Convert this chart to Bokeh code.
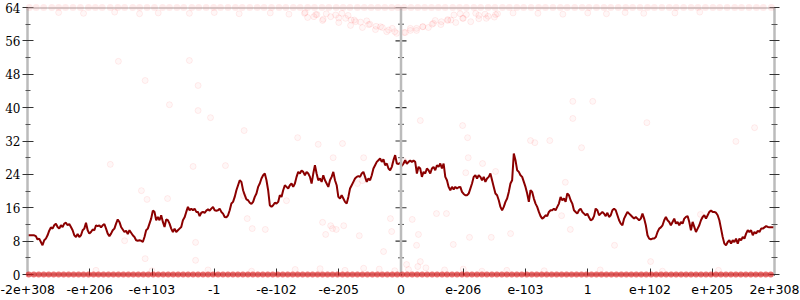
import numpy as np
from bokeh.plotting import figure
from bokeh.models import Range1d, LinearAxis, Span, FixedTicker, CustomJSTickFormatter
from bokeh.embed import file_html
from bokeh.resources import INLINE

# ---------------- data ----------------
x_ticks = [-6, -5, -4, -3, -2, -1, 0, 1, 2, 3, 4, 5, 6]
x_tick_labels = ["-2e+308", "-e+206", "-e+103", "-1", "-e-102", "-e-205", "0",
                 "e-206", "e-103", "1", "e+102", "e+205", "2e+308"]
y_ticks = [0, 8, 16, 24, 32, 40, 48, 56, 64]
y_minor_ticks = [4, 12, 20, 28, 36, 44, 52, 60]

line_left = [9.4, 9.4, 9.4, 9.4, 9.4, 9.2, 8.4, 8.6, 7.8, 7.0, 8.2, 8.6, 9.4, 10.5, 11.3, 11.0,
             11.8, 12.2, 11.4, 11.0, 11.8, 11.4, 12.2, 12.4, 11.8, 12.1, 11.4, 10.6, 9.4, 9.0,
             9.7, 9.0, 9.4, 10.6, 11.0, 12.4, 10.6, 9.8, 10.2, 10.8, 10.6, 11.8, 11.6, 11.8,
             11.3, 11.8, 12.1, 11.0, 9.8, 9.2, 9.8, 10.6, 11.0, 12.2, 13.2, 12.6, 11.4, 10.8,
             10.2, 10.5, 9.7, 10.6, 10.0, 9.4, 9.0, 8.2, 8.1, 8.2, 8.1, 7.8, 9.0, 10.6, 11.0,
             12.2, 13.4, 15.3, 15.0, 13.0, 13.8, 13.0, 14.2, 12.6, 11.4, 13.2, 13.0, 12.2, 11.0,
             10.2, 11.0, 10.2, 10.6, 11.0, 11.4, 13.0, 13.7, 15.0, 16.2, 15.4, 15.8, 15.4, 15.8,
             15.0, 15.0, 14.0, 14.8, 15.0, 14.8, 15.3, 15.6, 15.3, 15.8, 16.2, 15.4, 15.3, 15.4,
             15.8, 15.0, 14.6, 13.8, 13.7, 14.2, 15.4, 17.0, 17.4, 18.6, 20.2, 21.4, 22.6, 22.2,
             20.2, 19.0, 18.0, 17.8, 17.2, 16.9, 17.4, 18.6, 19.4, 21.0, 21.8, 23.0, 23.8, 24.2,
             22.6, 20.2, 16.6, 16.2, 16.6, 17.2, 17.0, 17.4, 19.0, 18.6, 20.2, 21.4, 21.0, 20.6,
             21.4, 21.8, 21.0, 21.8, 23.4, 24.6, 24.2, 24.9, 24.6, 23.8, 24.6, 24.2, 23.4, 21.8,
             24.2, 26.2, 24.2, 22.6, 23.0, 22.2, 23.8, 22.6, 21.8, 21.0, 22.6, 23.4, 24.6, 22.6,
             21.4, 18.6, 18.2, 19.0, 18.2, 17.4, 17.0, 18.6, 20.6, 21.4, 22.2, 23.0, 23.4, 23.6,
             23.4, 24.2, 24.6, 23.4, 22.2, 23.0, 22.6, 23.8, 25.4, 26.2, 27.0, 27.4, 27.8, 27.0,
             27.6, 26.2, 26.6, 25.4, 25.0, 25.8, 27.4, 28.6, 26.6, 26.5, 26.8]

line_right = [26.0, 26.6, 27.4, 26.5, 27.0, 27.3, 27.0, 27.3, 27.0, 24.2, 25.8, 25.4, 23.4, 24.6,
              24.2, 25.4, 25.0, 24.2, 25.4, 25.8, 25.0, 26.2, 25.8, 26.6, 25.4, 26.6, 23.4, 22.6,
              21.0, 20.2, 21.0, 20.4, 21.0, 20.6, 20.9, 21.0, 19.8, 19.3, 19.0, 19.0, 19.4, 20.6,
              21.8, 23.4, 23.8, 23.0, 23.8, 23.4, 22.6, 23.4, 22.2, 23.0, 23.4, 24.2, 22.6, 21.0,
              19.4, 19.0, 17.8, 16.2, 15.4, 16.2, 17.4, 18.2, 19.8, 21.8, 22.6, 29.0, 27.4, 25.0,
              24.6, 23.8, 23.4, 22.2, 21.0, 19.4, 17.4, 20.2, 19.8, 18.2, 17.0, 16.2, 15.0, 14.0,
              13.4, 13.7, 14.2, 14.0, 15.0, 15.4, 15.4, 15.8, 15.4, 16.2, 17.0, 18.6, 17.8, 18.2,
              17.4, 19.4, 19.0, 17.8, 17.0, 15.4, 15.0, 14.6, 15.4, 15.8, 15.0, 14.6, 14.2, 14.6,
              13.7, 13.0, 13.2, 14.0, 15.8, 15.4, 14.2, 14.6, 15.0, 14.6, 14.0, 14.8, 13.8, 14.2,
              15.4, 15.8, 15.4, 14.2, 13.0, 12.2, 11.8, 13.4, 14.2, 15.0, 14.6, 14.2, 13.8, 13.4,
              13.8, 13.4, 13.0, 13.4, 14.6, 13.4, 11.8, 9.4, 8.6, 8.4, 8.6, 8.6, 9.0, 10.2, 11.0,
              11.3, 11.8, 13.0, 13.8, 13.0, 12.6, 11.8, 12.6, 13.4, 12.2, 12.6, 11.8, 12.6, 12.2,
              13.4, 13.8, 14.0, 12.6, 10.6, 12.6, 11.4, 10.2, 11.0, 11.8, 13.0, 13.8, 14.2, 13.4,
              14.2, 15.0, 15.3, 15.0, 15.0, 14.8, 14.2, 13.0, 11.0, 9.0, 7.4, 7.0, 7.8, 8.2, 7.4,
              8.2, 7.8, 8.6, 7.4, 8.6, 8.2, 9.0, 8.6, 9.8, 10.6, 10.2, 10.6, 9.4, 10.2, 9.8, 10.5,
              10.2, 11.0, 11.0, 11.3, 11.6, 11.4, 11.3, 11.3, 11.3, 11.4]

# samples saturated at the top (y = 64) and bottom (y = 0)
top_band_x = [-5.97, -5.86, -5.74, -5.61, -5.5, -5.39, -5.27, -5.15, -5.02, -4.91, -4.8, -4.67,
              -4.55, -4.44, -4.31, -4.2, -4.08, -3.96, -3.83, -3.72, -3.6, -3.49, -3.36, -3.25,
              -3.13, -3.01, -2.9, -2.78, -2.66, -2.55, -2.43, -2.31, -2.2, -2.08, -1.96, -1.85,
              -1.73, -1.62, -1.5, -1.39, -1.27, -1.16, -1.04, -0.93, -0.82, -0.7, -0.59, -0.48,
              -0.37, -0.26, -0.15, -0.05, 0.05, 0.16, 0.27, 0.38, 0.49, 0.6, 0.71, 0.83, 0.94,
              1.05, 1.17, 1.28, 1.4, 1.51, 1.63, 1.74, 1.86, 1.97, 2.09, 2.21, 2.32, 2.44, 2.56,
              2.67, 2.79, 2.91, 3.02, 3.14, 3.26, 3.37, 3.49, 3.61, 3.72, 3.84, 3.96, 4.07, 4.19,
              4.31, 4.42, 4.54, 4.66, 4.77, 4.89, 5.01, 5.12, 5.24, 5.36, 5.47, 5.59, 5.71, 5.82,
              5.95]
bottom_band_x = [-5.98, -5.9, -5.82, -5.74, -5.66, -5.58, -5.5, -5.42, -5.34, -5.26, -5.18, -5.1,
                 -5.02, -4.94, -4.86, -4.78, -4.7, -4.62, -4.54, -4.46, -4.38, -4.3, -4.22, -4.14,
                 -4.06, -3.98, -3.9, -3.82, -3.74, -3.66, -3.58, -3.5, -3.42, -3.34, -3.26, -3.18,
                 -3.1, -3.02, -2.94, -2.86, -2.78, -2.7, -2.62, -2.54, -2.46, -2.38, -2.3, -2.22,
                 -2.14, -2.06, -1.98, -1.9, -1.82, -1.74, -1.66, -1.58, -1.5, -1.42, -1.34, -1.26,
                 -1.18, -1.1, -1.02, -0.94, -0.86, -0.78, -0.7, -0.62, -0.54, -0.46, -0.38, -0.3,
                 -0.22, -0.14, -0.06, 0.02, 0.1, 0.18, 0.26, 0.34, 0.42, 0.5, 0.58, 0.66, 0.74,
                 0.82, 0.9, 0.98, 1.06, 1.14, 1.22, 1.3, 1.38, 1.46, 1.54, 1.62, 1.7, 1.78, 1.86,
                 1.94, 2.02, 2.1, 2.18, 2.26, 2.34, 2.42, 2.5, 2.58, 2.66, 2.74, 2.82, 2.9, 2.98,
                 3.06, 3.14, 3.22, 3.3, 3.38, 3.46, 3.54, 3.62, 3.7, 3.78, 3.86, 3.94, 4.02, 4.1,
                 4.18, 4.26, 4.34, 4.42, 4.5, 4.58, 4.66, 4.74, 4.82, 4.9, 4.98, 5.06, 5.14, 5.22,
                 5.3, 5.38, 5.46, 5.54, 5.62, 5.7, 5.78, 5.86, 5.94]

# remaining scattered samples
cloud_x = [-5.5, -5.1, -4.6, -4.2, -3.9, -3.4, -3.0, -2.6, -2.1, -1.8, -1.55, -1.35, -1.2, -1.05,
           -0.95, -0.85, 0.85, 0.95, 1.05, 1.2, 1.35, 1.55, 1.8, 2.2, 2.6, 3.0, 3.3, 3.6, 3.9,
           4.4, 4.8, -1.5, -1.25, -1.0, -0.75, -0.55, 0.55, 0.75, 1.0, 1.25, 1.5, -0.8, -0.65,
           -0.5, -0.4, -0.3, -0.2, -0.1, 0.05, 0.15, 0.25, 0.35, 0.5, 0.65, 0.8, -1.4, 1.4,
           -1.54, -1.37, -1.26, -1.13, -1.00, -0.89, -0.81, -0.73, -0.62, -0.52, -0.41, -0.33,
           -0.23, -0.14, -0.07, 0.07, 0.15, 0.25, 0.35, 0.44, 0.52, 0.64, 0.75, 0.88, 0.99,
           1.12, 1.25, 1.37, 1.52,
           -4.54, -4.11, -3.40, -3.26, -3.72, -3.26, -4.67, -3.34, -4.17, -4.08, -3.75, -2.52,
           -3.06, -1.66, -0.94, -2.82, -1.09, -0.60, -0.62, 0.31, 0.99, 1.07, 2.08, 2.15, 2.39,
           2.76, 2.90, 1.31, 1.04, 1.52, 2.64, 2.76, 3.08, 3.95, 5.38, 5.68, -2.53, -2.47,
           -2.39, -1.84, -2.18, -1.33, -1.10, -0.92, -1.26, -1.21, -0.70, -0.17, 0.04, 0.18,
           -0.17, 0.73, 1.10, 1.45, 1.76, 1.08, 2.58, 2.72, 0.28,
           -4.44, -4.11, -3.30, -3.30, -1.13, -1.04, -0.67, -0.15, -0.28, 0.31, 0.25, 0.84,
           0.57, 0.09, 0.27, 3.43, 4.01, 4.81,
           -4.9, -4.0, -3.1, -2.4, -1.7, -1.3, -0.9, -0.6, -0.35, -0.1, 0.12, 0.4, 0.7, 1.0,
           1.3, 1.7, 2.3, 3.2, 4.2, 5.1]
cloud_y = [62.8, 62.6, 62.9, 62.5, 62.7, 62.6, 62.8, 62.5, 62.7, 62.4, 62.6, 62.3, 62.5, 62.2,
           62.6, 62.1, 62.2, 62.5, 62.3, 62.6, 62.4, 62.5, 62.7, 62.6, 62.4, 62.7, 62.5, 62.8,
           62.6, 62.7, 62.9, 61.6, 61.2, 61.5, 61.0, 60.8, 60.9, 61.1, 61.4, 61.3, 61.7, 61.0,
           60.5, 60.0, 59.5, 59.2, 58.6, 58.2, 58.0, 58.5, 59.0, 59.4, 60.0, 60.6, 61.0, 61.8,
           61.9,
           62.8, 62.3, 60.9, 61.8, 60.4, 61.4, 59.7, 60.6, 59.2, 59.9, 58.7, 59.4,
           58.2, 59.0, 57.8, 58.0, 59.0, 58.5, 59.4, 59.2, 60.2, 59.9, 60.9, 60.4, 61.4,
           60.6, 62.1, 61.4, 62.3,
           51.1, 46.5, 51.3, 45.3, 40.7, 39.3, 26.4, 25.9, 20.1, 18.0, 18.2, 34.5,
           37.6, 32.8, 31.4, 26.1, 28.0, 28.0, 22.5, 36.9, 35.7, 32.8, 32.1, 31.6, 32.1,
           37.4, 30.4, 26.6, 24.4, 24.7, 22.1, 41.5, 41.5, 36.4, 31.9, 35.2, 18.9, 13.4,
           11.0, 17.7, 10.8, 31.2, 11.0, 11.7, 12.5, 9.6, 21.8, 26.1, 27.3, 13.2,
           13.4, 14.6, 8.9, 8.9, 9.8, 28.0, 14.1, 10.8, 9.6,
           8.1, 3.8, 3.4, 7.7, 11.7, 10.8, 9.3, 10.3, 5.5, 3.1, 7.0, 7.2,
           14.6, 2.4, 1.9, 7.0, 3.1, 14.4,
           1.0, 0.9, 1.1, 0.8, 1.2, 1.4, 1.0, 1.5, 1.3, 0.9, 1.2, 1.6, 1.1, 1.3,
           0.8, 1.0, 0.9, 1.1, 0.8, 1.0]

# ---------------- figure ----------------
line_y = line_left + line_right
line_x = np.linspace(x_ticks[0], x_ticks[-1], len(line_y))

p = figure(width=800, height=300, x_range=Range1d(-6, 6), y_range=Range1d(0, 64),
           output_backend="svg", toolbar_location=None,
           min_border_left=27, min_border_right=26, min_border_top=7, min_border_bottom=26)
p.outline_line_color = None
p.grid.visible = False
p.background_fill_color = "white"
p.border_fill_color = "white"

AX = "#bbbbbb"

# frame lines (top and center)
p.add_layout(Span(location=64, dimension="width", line_color="#a8a8a8", line_width=2))
p.add_layout(Span(location=0, dimension="height", line_color=AX, line_width=2.5))

# scatter cloud
p.scatter(cloud_x, cloud_y, size=6, fill_color="red", fill_alpha=0.03,
          line_color="red", line_alpha=0.07)
p.scatter(top_band_x, [64] * len(top_band_x), size=7, fill_color="red", fill_alpha=0.08,
          line_color="red", line_alpha=0.0, level="overlay")
p.scatter(bottom_band_x, [0] * len(bottom_band_x), size=6, fill_color="#e01010",
          fill_alpha=0.6, line_color="#e01010", line_alpha=0.0, level="overlay")

# data line
p.line(line_x, line_y, line_color="#8b0000", line_width=2)

# center-axis ticks (drawn from tick values)
p.scatter([0] * len(y_ticks), y_ticks, marker="dash", size=11, line_color="#333333",
          line_width=1.2)
p.scatter([0] * len(y_minor_ticks), y_minor_ticks, marker="dash", size=6,
          line_color="#555555", line_width=1)

# bottom axis
xa = p.xaxis[0]
xa.ticker = FixedTicker(ticks=x_ticks, minor_ticks=[])
xa.major_label_overrides = {t: l for t, l in zip(x_ticks, x_tick_labels)}
xa.axis_line_color = AX
xa.axis_line_width = 2.5
xa.major_tick_in = 6
xa.major_tick_out = 1
xa.major_tick_line_color = "#333333"
xa.major_label_standoff = 9
xa.major_label_text_font = "DejaVu Sans"
xa.major_label_text_font_size = "12.5px"
xa.major_label_text_color = "black"

# left axis
ya = p.yaxis[0]
ya.ticker = FixedTicker(ticks=y_ticks, minor_ticks=y_minor_ticks)
ya.axis_line_color = AX
ya.axis_line_width = 2.5
ya.major_tick_in = 6
ya.major_tick_out = 5
ya.minor_tick_in = 3
ya.minor_tick_out = 2
ya.major_tick_line_color = "#333333"
ya.minor_tick_line_color = "#555555"
ya.major_label_standoff = 2
ya.major_label_text_font = "DejaVu Serif"
ya.major_label_text_font_size = "12px"
ya.major_label_text_color = "black"

# right axis (ticks only, no labels)
ra = LinearAxis(ticker=FixedTicker(ticks=y_ticks, minor_ticks=y_minor_ticks))
ra.axis_line_color = AX
ra.axis_line_width = 2.5
ra.major_tick_in = 5
ra.major_tick_out = 5
ra.minor_tick_in = 3
ra.minor_tick_out = 3
ra.major_tick_line_color = "#333333"
ra.minor_tick_line_color = "#555555"
ra.formatter = CustomJSTickFormatter(code="return ''")
ra.major_label_standoff = 0
p.add_layout(ra, "right")

open("out.html", "w").write(file_html(p, INLINE))
